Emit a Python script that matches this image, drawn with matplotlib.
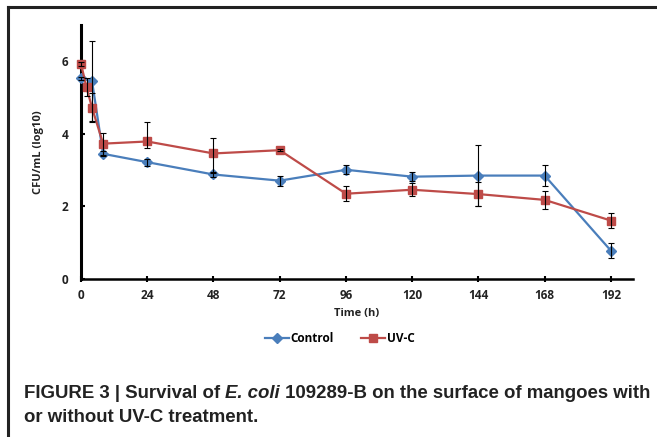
import numpy as np
import matplotlib
matplotlib.use('Agg')
import matplotlib.pyplot as plt
from matplotlib.lines import Line2D

#=============== data ===============
t_control   = [0, 4, 8, 24, 48, 72, 96, 120, 144, 168, 192]
y_control   = [5.53, 5.45, 3.45, 3.22, 2.88, 2.71, 3.01, 2.82, 2.85, 2.85, 0.78]
err_control = [0.05, 1.10, 0.07, 0.10, 0.07, 0.14, 0.12, 0.12, 0.83, 0.30, 0.20]

t_uvc       = [0, 2, 4, 8, 24, 48, 72, 96, 120, 144, 168, 192]
y_uvc       = [5.93, 5.28, 4.72, 3.73, 3.79, 3.46, 3.55, 2.35, 2.46, 2.34, 2.18, 1.61]
err_uvc_lo  = [0.05, 0.25, 0.40, 0.30, 0.17, 0.55, 0.02, 0.20, 0.18, 0.33, 0.25, 0.20]
err_uvc_hi  = [0.05, 0.25, 0.40, 0.30, 0.54, 0.42, 0.02, 0.20, 0.18, 0.33, 0.25, 0.20]

x_ticks = [0, 24, 48, 72, 96, 120, 144, 168, 192]
y_ticks = [0, 2, 4, 6]

caption_parts = [('FIGURE 3 | Survival of ', 'normal'), ('E. coli', 'italic'),
                 (' 109289-B on the surface of mangoes with', 'normal')]
caption_line2 = 'or without UV-C treatment.'

blue = "#4A7EBB"
red = "#BE4B48"
font = ['Open Sans', 'DejaVu Sans']
cap_font = ['Liberation Sans Narrow', 'Liberation Sans']

fig = plt.figure(figsize=(6.57, 4.37), dpi=100)
ax = fig.add_axes([81/657, 1-279/437, (633-81)/657, (279-25)/437])

ax.plot(t_control, y_control, color=blue, lw=1.6, marker='D', ms=4.8,
        mec=blue, mfc=blue, zorder=3, clip_on=False, label='Control')
ax.plot(t_uvc, y_uvc, color=red, lw=1.6, marker='s', ms=6,
        mec=red, mfc=red, zorder=3, clip_on=False, label='UV-C')
e1 = ax.errorbar(t_control, y_control, yerr=err_control, fmt='none',
                 ecolor='black', elinewidth=0.8, capsize=2, capthick=0.8, zorder=4)
e2 = ax.errorbar(t_uvc, y_uvc, yerr=[err_uvc_lo, err_uvc_hi], fmt='none',
                 ecolor='black', elinewidth=0.8, capsize=2, capthick=0.8, zorder=4)
for e in (e1, e2):
	for c in e.lines[1]:
		c.set_clip_on(False)
	for c in e.lines[2]:
		c.set_clip_on(False)

ax.set_xlim(0, 200)
ax.set_ylim(0, 7)
ax.set_xticks(x_ticks)
ax.set_yticks(y_ticks)
for s in ['top', 'right']:
	ax.spines[s].set_visible(False)
ax.spines['left'].set_linewidth(2.2)
ax.spines['bottom'].set_linewidth(1.8)
ax.tick_params(axis='x', direction='inout', length=5, width=1.5, pad=5)
ax.tick_params(axis='y', direction='in', length=3, width=1.5, pad=9)
for lab in ax.get_xticklabels() + ax.get_yticklabels():
	lab.set_fontfamily(font)
	lab.set_fontweight('bold')
	lab.set_fontsize(8.5)
	lab.set_color('#222222')

ax.set_xlabel('Time (h)', fontfamily=font, fontweight='bold', fontsize=8,
              color='#222222', labelpad=4)
ax.set_ylabel('CFU/mL (log10)', fontfamily=font, fontweight='bold', fontsize=8,
              color='#222222', labelpad=13)

fig.legend(loc='center', bbox_to_anchor=(340/657, 1-339/437), ncol=2,
           frameon=False, handlelength=2.0, columnspacing=2.3, handletextpad=0.15,
           prop={'family': font, 'weight': 'bold', 'size': 8.5})

#-------------- frame around figure --------------
fig.add_artist(Line2D([8/657, 1], [1-7/437, 1-7/437], color='#222222', lw=2.2,
                      transform=fig.transFigure))
fig.add_artist(Line2D([8/657, 8/657], [0, 1-7/437], color='#222222', lw=2.2,
                      transform=fig.transFigure))

#-------------- caption --------------
renderer = fig.canvas.get_renderer()
x0 = 24/657
x = x0
for txt, style in caption_parts:
	t = fig.text(x, 1-394/437, txt, fontfamily=cap_font, fontweight='bold',
	             fontstyle=style, fontsize=13.4, color='#222222', va='center')
	bb = t.get_window_extent(renderer=renderer)
	x += bb.width / fig.bbox.width
fig.text(x0, 1-418/437, caption_line2, fontfamily=cap_font, fontweight='bold',
         fontsize=13.4, color='#222222', va='center')

fig.savefig('out.png', dpi=100)
